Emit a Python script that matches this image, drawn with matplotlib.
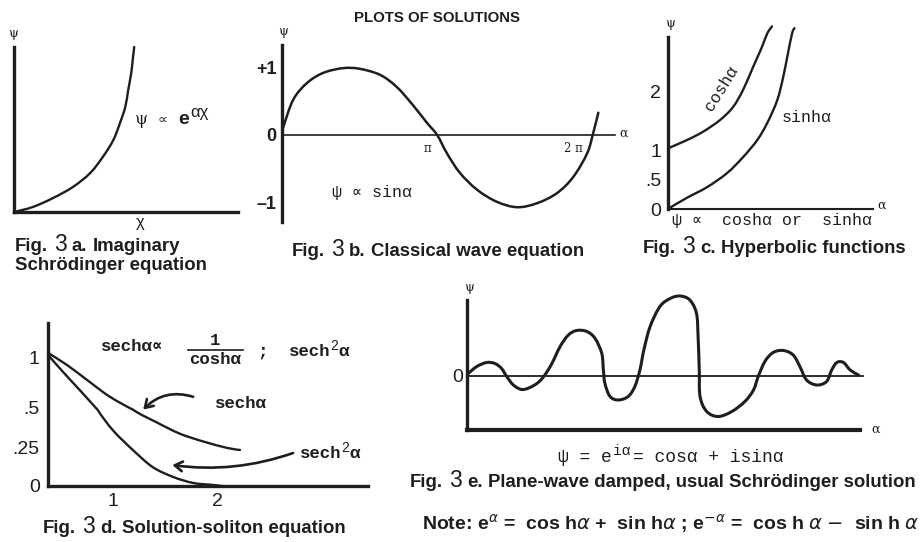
import numpy as np
import matplotlib
matplotlib.use("Agg")
import matplotlib.pyplot as plt
from matplotlib.transforms import Affine2D
from matplotlib.lines import Line2D
from matplotlib.path import Path
from matplotlib.patches import PathPatch

plt.rcParams['mathtext.fontset'] = 'dejavusans'

# ---------------- data ----------------
# Fig. 3a  psi ~ e^(alpha chi)
a_chi = [0.0, 0.25, 0.52, 0.79, 1.02, 1.19, 1.33, 1.42, 1.49, 1.53, 1.57, 1.59, 1.61]
a_psi = [0.0, 0.15, 0.42, 0.76, 1.18, 1.67, 2.18, 2.70, 3.18, 3.70, 4.21, 4.61, 5.0]

# Fig. 3b  psi ~ sin(alpha)
b_alpha = [0.02, 0.24, 0.54, 0.89, 1.32, 1.68, 2.12, 2.48, 2.83, 3.13, 3.35, 3.56, 3.84,
           4.21, 4.64, 5.08, 5.51, 5.94, 6.29, 6.59, 6.72, 6.83]
b_psi = [0.10, 0.52, 0.77, 0.92, 0.99, 0.98, 0.89, 0.71, 0.44, 0.18, 0.00, -0.27, -0.56,
         -0.81, -0.99, -1.07, -1.01, -0.86, -0.62, -0.27, 0.03, 0.33]
b_xticks = [np.pi, 2 * np.pi]
b_xticklabels = ["\u03c0", "2 \u03c0"]
b_yticks = [1, 0, -1]
b_yticklabels = ["+1", "0", "\u20131"]

# Fig. 3c  cosh / sinh
c_cosh_alpha = [0.0, 0.32, 0.59, 0.88, 1.10, 1.27, 1.44, 1.59, 1.68, 1.76]
c_cosh_psi = [1.03, 1.17, 1.31, 1.51, 1.73, 2.02, 2.41, 2.75, 2.98, 3.10]
c_sinh_alpha = [0.03, 0.32, 0.66, 1.00, 1.27, 1.51, 1.68, 1.85, 1.95, 2.03, 2.10, 2.14]
c_sinh_psi = [0.02, 0.19, 0.37, 0.61, 0.88, 1.17, 1.46, 1.85, 2.24, 2.64, 2.98, 3.07]
c_yticks = [0, 0.5, 1, 2]
c_yticklabels = ["0", ".5", "1", "2"]

# Fig. 3d  sech / sech^2
d_sech_alpha = [0.375, 0.56, 0.75, 0.97, 1.19, 1.42, 1.64, 1.87, 2.10, 2.22]
d_sech_psi = [1.04, 0.92, 0.775, 0.61, 0.49, 0.41, 0.34, 0.29, 0.25, 0.237]
d_sech2_alpha = [0.375, 0.52, 0.68, 0.85, 1.00, 1.19, 1.38, 1.58, 1.77, 1.96, 2.05]
d_sech2_psi = [1.02, 0.853, 0.676, 0.49, 0.36, 0.237, 0.125, 0.059, 0.02, 0.007, 0.0]
d_xticks = [1, 2]
d_xticklabels = ["1", "2"]
d_yticks = [0, 0.25, 0.5, 1]
d_yticklabels = ["0", ".25", ".5", "1"]

# Fig. 3e  damped plane wave
e_alpha = [0.03, 0.25, 0.50, 0.71, 0.88, 1.01, 1.18, 1.39, 1.60, 1.81, 1.98, 2.16, 2.37,
           2.58, 2.79, 3.05, 3.26, 3.43, 3.47, 3.51, 3.64, 3.85, 4.10, 4.27, 4.40, 4.50,
           4.66, 4.91, 5.17, 5.42, 5.67, 5.84, 5.88, 5.91, 5.93, 6.10, 6.39, 6.74, 7.07,
           7.29, 7.41, 7.58, 7.79, 8.05, 8.30, 8.47, 8.64, 8.90, 9.15, 9.28, 9.41, 9.58,
           9.75, 9.96]
e_psi = [0.05, 0.19, 0.27, 0.25, 0.15, -0.01, -0.18, -0.27, -0.23, -0.13, 0.02, 0.25, 0.59,
         0.82, 0.91, 0.89, 0.75, 0.45, 0.12, -0.15, -0.41, -0.48, -0.41, -0.21, 0.12, 0.52,
         0.99, 1.39, 1.55, 1.60, 1.52, 1.25, 0.79, 0.12, -0.41, -0.71, -0.81, -0.71, -0.51,
         -0.28, -0.01, 0.29, 0.47, 0.51, 0.42, 0.19, -0.08, -0.18, -0.11, 0.12, 0.27, 0.27,
         0.12, 0.02]

# ---------------- figure setup ----------------
W, H = 922, 542
fig = plt.figure(figsize=(W / 100, H / 100), dpi=100)
fig.patch.set_facecolor("white")
PX = Affine2D().scale(1 / W, -1 / H).translate(0, 1) + fig.transFigure
INK = "#1e1e1e"
SANS = ["Liberation Sans", "DejaVu Sans"]
MONO = ["Liberation Mono", "DejaVu Sans Mono"]
SERIF = ["DejaVu Serif", "DejaVu Sans"]


def add_ax(x0, y0, x1, y1):
    ax = fig.add_axes([x0 / W, 1 - y1 / H, (x1 - x0) / W, (y1 - y0) / H])
    ax.patch.set_alpha(0)
    for s in ax.spines.values():
        s.set_visible(False)
        s.set_color(INK)
    ax.set_xticks([])
    ax.set_yticks([])
    return ax


def smooth_line(ax, xs, ys, lw=1.8):
    """Draw a smooth (Catmull-Rom style Bezier) line through the data points."""
    P = np.column_stack([xs, ys]).astype(float)
    n = len(P)
    verts = [P[0]]
    codes = [Path.MOVETO]
    for i in range(n - 1):
        p0 = P[i - 1] if i > 0 else P[i]
        p1 = P[i]
        p2 = P[i + 1]
        p3 = P[i + 2] if i + 2 < n else P[i + 1]
        verts += [p1 + (p2 - p0) / 6.0, p2 - (p3 - p1) / 6.0, p2]
        codes += [Path.CURVE4] * 3
    patch = PathPatch(Path(verts, codes), fill=False, edgecolor=INK, lw=lw,
                      capstyle="round", joinstyle="round", clip_on=False)
    ax.add_patch(patch)
    return patch


_R = [None]


def rich(x, y, pieces, ha="left"):
    if _R[0] is None:
        _R[0] = fig.canvas.get_renderer()
    texts = []
    cx = x
    last_gap = 0
    for s, kw, gap in pieces:
        kw = dict(kw)
        dy = kw.pop("dy", 0)
        t = fig.text(cx, y + dy, s, transform=PX, ha="left", va="baseline", color=INK, **kw)
        w = t.get_window_extent(_R[0]).width
        cx += w + gap
        last_gap = gap
        texts.append(t)
    if ha == "center":
        shift = (cx - last_gap - x) / 2
        for t in texts:
            px, py = t.get_position()
            t.set_x(px - shift)
    return texts


def ptext(x, y, s, **kw):
    kw.setdefault("color", INK)
    return fig.text(x, y, s, transform=PX, **kw)


FIGB = dict(family=SANS, weight="bold", size=13.4)
THREE = dict(family=SANS, size=16.5)


def caption(x, y, letter, rest):
    rich(x, y, [("Fig.", FIGB, 6), ("3", THREE, 5), (letter + ".", FIGB, 5), (rest, FIGB, 0)])


# ---------------- title ----------------
ptext(437, 22, "PLOTS OF SOLUTIONS", family=SANS, weight="bold", size=10.8,
      ha="center", va="baseline")

# ---------------- Fig 3a ----------------
axa = add_ax(14, 47, 238, 212)
axa.set_xlim(0, 3.0)
axa.set_ylim(0, 5.0)
axa.spines["left"].set_visible(True)
axa.spines["bottom"].set_visible(True)
axa.spines["left"].set_linewidth(2.4)
axa.spines["bottom"].set_linewidth(2.4)
smooth_line(axa, a_chi, a_psi, lw=1.7)
ptext(13, 33, "\u03c8", family=SERIF, size=9, ha="center", va="center")
ptext(140, 223, "\u03c7", family=SANS, size=12, ha="center", va="center")
rich(135, 124, [("\u03c8", dict(family=SERIF, size=12), 9),
                ("\u221d", dict(family=SANS, size=10), 11),
                ("e", dict(family=SANS, weight="bold", size=14), 1),
                ("\u03b1\u03c7", dict(family=SANS, size=12, dy=-7), 0)])
caption(15, 251, "a", "Imaginary")
ptext(15, 270, "Schr\u00f6dinger equation", ha="left", va="baseline", **FIGB)

# ---------------- Fig 3b ----------------
axb = add_ax(282, 45, 615, 222)
axb.set_xlim(0, 7.19)
axb.set_ylim(-1.289, 1.333)
axb.spines["left"].set_visible(True)
axb.spines["left"].set_linewidth(2.4)
axb.spines["bottom"].set_visible(True)
axb.spines["bottom"].set_position(("data", 0))
axb.spines["bottom"].set_linewidth(1.2)
smooth_line(axb, b_alpha, b_psi, lw=1.8)
axb.set_xticks(b_xticks, b_xticklabels, family=SERIF, size=8.5, color=INK)
axb.set_yticks(b_yticks, b_yticklabels, family=SANS, weight="bold", size=13, color=INK)
axb.tick_params(axis="both", length=0)
axb.tick_params(axis="x", pad=5)
axb.tick_params(axis="y", pad=4)
ptext(283, 32, "\u03c8", family=SERIF, size=9, ha="center", va="center")
ptext(619, 133, "\u03b1", family=SERIF, size=9, ha="left", va="center")
ptext(332, 193, "\u03c8 \u221d sin\u03b1", family=MONO, size=12, ha="left", va="center")
caption(292, 256, "b", "Classical wave equation")

# ---------------- Fig 3c ----------------
axc = add_ax(668, 37, 873, 209)
axc.set_xlim(0, 3.47)
axc.set_ylim(0, 2.92)
axc.spines["left"].set_visible(True)
axc.spines["left"].set_linewidth(2.4)
axc.spines["bottom"].set_visible(True)
axc.spines["bottom"].set_linewidth(1.5)
smooth_line(axc, c_cosh_alpha, c_cosh_psi, lw=1.7)
smooth_line(axc, c_sinh_alpha, c_sinh_psi, lw=1.7)
axc.set_yticks(c_yticks, c_yticklabels, family=SANS, size=14, color=INK)
axc.tick_params(axis="y", length=0, pad=5)
axc.set_yticks([2], minor=True)
axc.tick_params(axis="y", which="minor", length=9, width=2.2, direction="inout", color=INK)
ptext(670, 23, "\u03c8", family=SERIF, size=9, ha="center", va="center")
ptext(877, 205, "\u03b1", family=SERIF, size=9, ha="left", va="center")
ptext(721, 88, "cosh\u03b1", family=MONO, size=12, ha="center", va="center", rotation=58)
ptext(807, 117, "sinh\u03b1", family=MONO, size=12, ha="center", va="center")
ptext(672, 220, "\u03c8 \u221d  cosh\u03b1 or  sinh\u03b1", family=MONO, size=12,
      ha="left", va="center")
caption(643, 253, "c", "Hyperbolic functions")

# ---------------- Fig 3d ----------------
d_knot_val = [0, 0.25, 0.5, 1.0, 1.333]
d_knot_pos = [0, 38, 78, 129, 163]


def d_fwd(v):
    return np.interp(v, d_knot_val, d_knot_pos)


def d_inv(p):
    return np.interp(p, d_knot_pos, d_knot_val)


axd = add_ax(48, 323, 368, 486)
axd.set_yscale("function", functions=(d_fwd, d_inv))
axd.set_xlim(0.375, 3.45)
axd.set_ylim(0, 1.333)
axd.spines["left"].set_visible(True)
axd.spines["left"].set_linewidth(2.4)
axd.spines["bottom"].set_visible(True)
axd.spines["bottom"].set_linewidth(2.4)
smooth_line(axd, d_sech_alpha, d_sech_psi, lw=1.7)
smooth_line(axd, d_sech2_alpha, d_sech2_psi, lw=1.7)
axd.set_xlim(0.375, 3.45)
axd.set_ylim(0, 1.333)
axd.set_xticks(d_xticks, d_xticklabels, family=SANS, size=14, color=INK)
axd.set_yticks(d_yticks, d_yticklabels, family=SANS, size=14, color=INK)
axd.yaxis.set_minor_locator(matplotlib.ticker.NullLocator())
axd.tick_params(axis="both", which="both", length=0)
axd.tick_params(axis="x", pad=5)
axd.tick_params(axis="y", pad=6)
arrow = dict(arrowstyle="->,head_length=0.55,head_width=0.35", lw=1.9, color=INK,
             shrinkA=0, shrinkB=0)
axd.annotate("", xy=(1.29, 0.49), xytext=(1.77, 0.61),
             arrowprops=dict(arrow, connectionstyle="arc3,rad=0.3"))
axd.annotate("", xy=(1.57, 0.138), xytext=(2.73, 0.217),
             arrowprops=dict(arrow, connectionstyle="arc3,rad=-0.12"))
DM = dict(family=MONO, size=12.5, weight="bold")
SUP2 = dict(family=SANS, size=10, dy=-6)
ptext(241, 403, "sech\u03b1", ha="center", va="center", **DM)
rich(300, 458, [("sech", DM, 0), ("2", SUP2, 0), ("\u03b1", DM, 0)])
ptext(101, 351, "sech\u03b1\u221d", ha="left", va="baseline", **DM)
ptext(215, 345, "1", ha="center", va="baseline", **DM)
ptext(215, 364, "cosh\u03b1", ha="center", va="baseline", **DM)
fig.add_artist(Line2D([188, 243], [350, 350], transform=PX, color=INK, lw=1.2))
ptext(262, 356, ";", ha="center", va="baseline", **DM)
rich(289, 356, [("sech", DM, 0), ("2", SUP2, 0), ("\u03b1", DM, 0)])
caption(43, 533, "d", "Solution-soliton equation")

# ---------------- Fig 3e ----------------
axe = add_ax(467, 300, 860, 430)
axe.set_xlim(0, 10.0)
axe.set_ylim(-1.08, 1.52)
axe.spines["left"].set_visible(True)
axe.spines["left"].set_linewidth(2.4)
axe.spines["bottom"].set_visible(True)
axe.spines["bottom"].set_linewidth(3.0)
axe.axhline(0, xmin=0, xmax=1.008, color=INK, lw=1.3, clip_on=False)
smooth_line(axe, e_alpha, e_psi, lw=2.2)
axe.set_xlim(0, 10.0)
axe.set_ylim(-1.08, 1.52)
axe.set_yticks([0], ["0"], family=SANS, size=14, color=INK)
axe.tick_params(axis="y", length=0, pad=3)
ptext(469, 287, "\u03c8", family=SERIF, size=9, ha="center", va="center")
ptext(871, 429, "\u03b1", family=SERIF, size=9, ha="left", va="center")
EM = dict(family=MONO, size=13)
rich(671, 462, [("\u03c8 = e", EM, 1), ("i\u03b1", dict(family=MONO, size=10.5, dy=-7), 3),
                ("= cos\u03b1 + isin\u03b1", EM, 0)], ha="center")
caption(410, 487, "e", "Plane-wave damped, usual Schr\u00f6dinger solution")
ptext(422, 530,
      r"Note: e$^{\alpha}$ =  cos h$\alpha$ +  sin h$\alpha$ ; e$^{-\alpha}$ =  cos h $\alpha$ $-$  sin h $\alpha$",
      ha="left", va="baseline", family=SANS, weight="bold", size=14)

fig.savefig("out.png", dpi=100, facecolor="white")
